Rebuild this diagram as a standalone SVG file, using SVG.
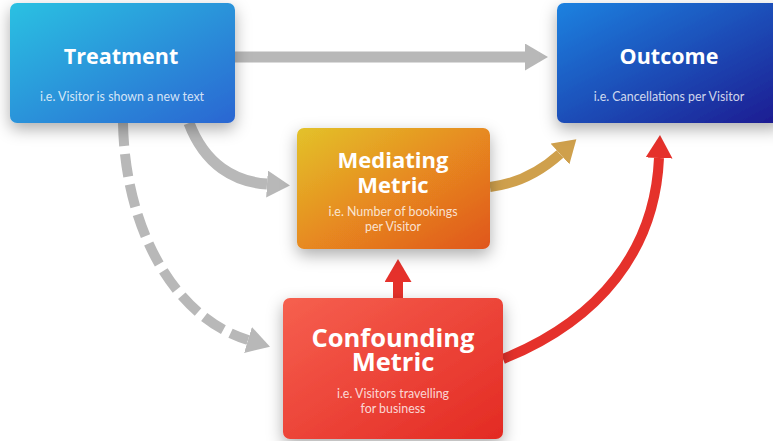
<svg xmlns="http://www.w3.org/2000/svg" width="773" height="441" viewBox="0 0 773 441">
<defs>
<style>
.title{font-family:"Open Sans","Liberation Sans",sans-serif;font-weight:700;fill:#ffffff;text-anchor:middle}
.sub{font-family:Lato,"Liberation Sans",sans-serif;font-size:12.4px;fill:#ffffff;fill-opacity:0.8;text-anchor:middle}
.gray{fill:none;stroke:#b8b8b8;stroke-width:11}
.dash{fill:none;stroke:#b8b8b8;stroke-width:10;stroke-dasharray:23 8}
.gold{fill:none;stroke:#cfa04c;stroke-width:10}
.red{fill:none;stroke:#e5312b;stroke-width:10}
</style>
<filter id="shadow" x="-30%" y="-30%" width="160%" height="170%">
<feDropShadow dx="0" dy="6" stdDeviation="8" flood-color="#000000" flood-opacity="0.32"/>
</filter>
<linearGradient id="gT" x1="0" y1="0" x2="1" y2="1">
<stop offset="0" stop-color="#2cc1e2"/>
<stop offset="1" stop-color="#2b66d2"/>
</linearGradient>
<linearGradient id="gO" x1="0" y1="0" x2="1" y2="1">
<stop offset="0" stop-color="#1f82e0"/>
<stop offset="1" stop-color="#1b1a90"/>
</linearGradient>
<linearGradient id="gM" x1="0" y1="0" x2="1" y2="1">
<stop offset="0" stop-color="#e3c22a"/>
<stop offset="0.5" stop-color="#e78a20"/>
<stop offset="1" stop-color="#e0561d"/>
</linearGradient>
<linearGradient id="gC" x1="0" y1="0" x2="1" y2="1">
<stop offset="0" stop-color="#f6604f"/>
<stop offset="1" stop-color="#e32a23"/>
</linearGradient>
<marker id="hGray" markerUnits="userSpaceOnUse" markerWidth="24" markerHeight="28" refX="0" refY="13.5" orient="auto">
<path d="M0,0 L23,13.5 L0,27 Z" fill="#b8b8b8"/>
</marker>
<marker id="hGold" markerUnits="userSpaceOnUse" markerWidth="24" markerHeight="28" refX="0" refY="14" orient="auto">
<path d="M0,0 L22,14 L0,28 Z" fill="#cfa04c"/>
</marker>
<marker id="hRed" markerUnits="userSpaceOnUse" markerWidth="24" markerHeight="28" refX="0" refY="13.5" orient="auto">
<path d="M0,0 L23,13.5 L0,27 Z" fill="#e5312b"/>
</marker>
</defs>
<rect width="773" height="441" fill="#ffffff"/>

<g id="connectors">
<path class="gray" d="M235,57 L525,57" marker-end="url(#hGray)"/>
<path class="gray" d="M189,123 C205,165 235,182 267,184" marker-end="url(#hGray)"/>
<path class="dash" d="M123,123 C125,230 175,318 248,340" marker-end="url(#hGray)"/>
<path class="gold" d="M490,187 C515,184 540,172 560,154" marker-end="url(#hGold)"/>
<path class="red" d="M503,359 C600,320 655,250 659,158" marker-end="url(#hRed)"/>
<path class="red" d="M398,298 L398,282" marker-end="url(#hRed)"/>
</g>

<g id="treatment">
<rect x="10" y="3" width="225" height="120" rx="7" fill="url(#gT)" filter="url(#shadow)"/>
<text class="title" x="121" y="64" font-size="21.5">Treatment</text>
<text class="sub" x="122" y="101">i.e. Visitor is shown a new text</text>
</g>

<g id="outcome">
<rect x="557" y="3" width="226" height="120" rx="7" fill="url(#gO)" filter="url(#shadow)"/>
<text class="title" x="669" y="64" font-size="21.5">Outcome</text>
<text class="sub" x="669" y="101">i.e. Cancellations per Visitor</text>
</g>

<g id="mediating">
<rect x="297" y="128" width="193" height="121" rx="7" fill="url(#gM)" filter="url(#shadow)"/>
<text class="title" x="393" y="168" font-size="22">Mediating</text>
<text class="title" x="393" y="193" font-size="22">Metric</text>
<text class="sub" x="393" y="216">i.e. Number of bookings</text>
<text class="sub" x="393" y="231">per Visitor</text>
</g>

<g id="confounding">
<rect x="283" y="298" width="220" height="141" rx="7" fill="url(#gC)" filter="url(#shadow)"/>
<text class="title" x="393" y="347" font-size="25.5">Confounding</text>
<text class="title" x="393" y="371" font-size="25.5">Metric</text>
<text class="sub" x="393" y="398">i.e. Visitors travelling</text>
<text class="sub" x="393" y="413">for business</text>
</g>
</svg>
